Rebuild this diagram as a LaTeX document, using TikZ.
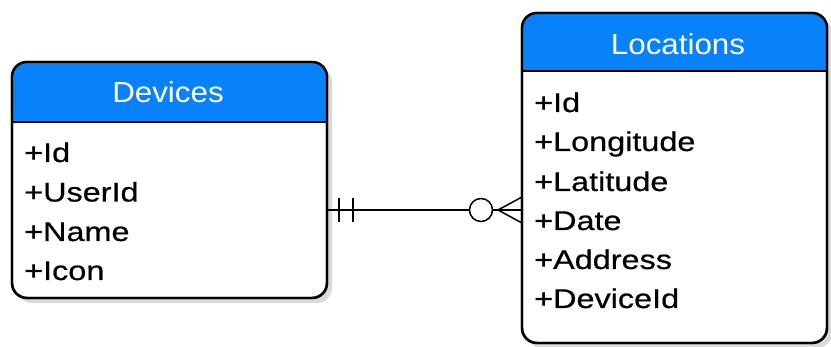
\documentclass[tikz,border=0pt]{standalone}
\usepackage{fontspec}
\setmainfont{Liberation Sans}
\newfontfamily\hdrfont[FakeStretch=1.08]{Liberation Sans}
\newfontfamily\bodyfont[FakeStretch=1.2,FakeBold=0.6]{Liberation Sans}
\usetikzlibrary{shadows,calc}
\definecolor{hdrblue}{RGB}{8,130,250}
\begin{document}
\begin{tikzpicture}[x=1pt,y=1pt,
  entity/.style={draw=black, line width=2.4pt, rounded corners=15pt, fill=white,
    outer sep=0pt, inner sep=0pt, anchor=north west,
    drop shadow={shadow xshift=5pt, shadow yshift=-5pt, opacity=0.25, fill=black!60}},
  outline/.style={draw=black, line width=2.4pt, rounded corners=15pt},
  sep/.style={draw=black, line width=2pt},
  hdr/.style={font=\hdrfont\fontsize{29}{29}\selectfont, text=white, inner sep=0pt, anchor=base},
  attr/.style={font=\bodyfont\fontsize{27}{27}\selectfont, text=black, inner sep=0pt, anchor=base west},
  conn/.style={draw=black, line width=1.5pt},
]
\useasboundingbox (0,0) rectangle (831,347);

% ---------- Devices ----------
\node[entity, minimum width=315pt, minimum height=236pt] (dev) at (12,285) {};
\begin{scope}
  \clip (dev.north west) rectangle ($(dev.north east)+(0,-60)$);
  \fill[hdrblue, rounded corners=15pt] (dev.south west) rectangle (dev.north east);
\end{scope}
\draw[outline] (dev.south west) rectangle (dev.north east);
\draw[sep] ($(dev.north west)+(0,-60)$) -- ($(dev.north east)+(0,-60)$);
\node[hdr] (devh) at (168,244) {Devices};
\node[attr] (d1) at (24,185) {+Id};
\node[attr] (d2) at (24,145.5) {+UserId};
\node[attr] (d3) at (24,106) {+Name};
\node[attr] (d4) at (24,67) {+Icon};

% ---------- Locations ----------
\node[entity, minimum width=305pt, minimum height=330pt] (loc) at (522,334) {};
\begin{scope}
  \clip (loc.north west) rectangle ($(loc.north east)+(0,-58)$);
  \fill[hdrblue, rounded corners=15pt] (loc.south west) rectangle (loc.north east);
\end{scope}
\draw[outline] (loc.south west) rectangle (loc.north east);
\draw[sep] ($(loc.north west)+(0,-58)$) -- ($(loc.north east)+(0,-58)$);
\node[hdr] (loch) at (678,292) {Locations};
\node[attr] (l1) at (534,235) {+Id};
\node[attr] (l2) at (534,196) {+Longitude};
\node[attr] (l3) at (534,156) {+Latitude};
\node[attr] (l4) at (534,117) {+Date};
\node[attr] (l5) at (534,78) {+Address};
\node[attr] (l6) at (534,39) {+DeviceId};

% ---------- Relationship ----------
\coordinate (ca) at (dev.east |- 0,137);
\coordinate (cb) at (loc.west |- 0,137);
\coordinate (b1t) at (339,149); \coordinate (b1b) at (339,125);
\coordinate (b2t) at (353,149); \coordinate (b2b) at (353,125);
\coordinate (foot) at (498,137);
\coordinate (cbt) at ($(cb)+(0,13)$);
\coordinate (cbb) at ($(cb)+(0,-13)$);
\draw[conn] (ca) -- (cb);
\draw[conn] (b1t) -- (b1b);
\draw[conn] (b2t) -- (b2b);
\draw[conn] (foot) -- (cbt);
\draw[conn] (foot) -- (cbb);
\node[circle, draw=black, line width=1.5pt, fill=white, minimum size=23pt, inner sep=0pt] (circ) at (481,137) {};
\end{tikzpicture}
\end{document}
